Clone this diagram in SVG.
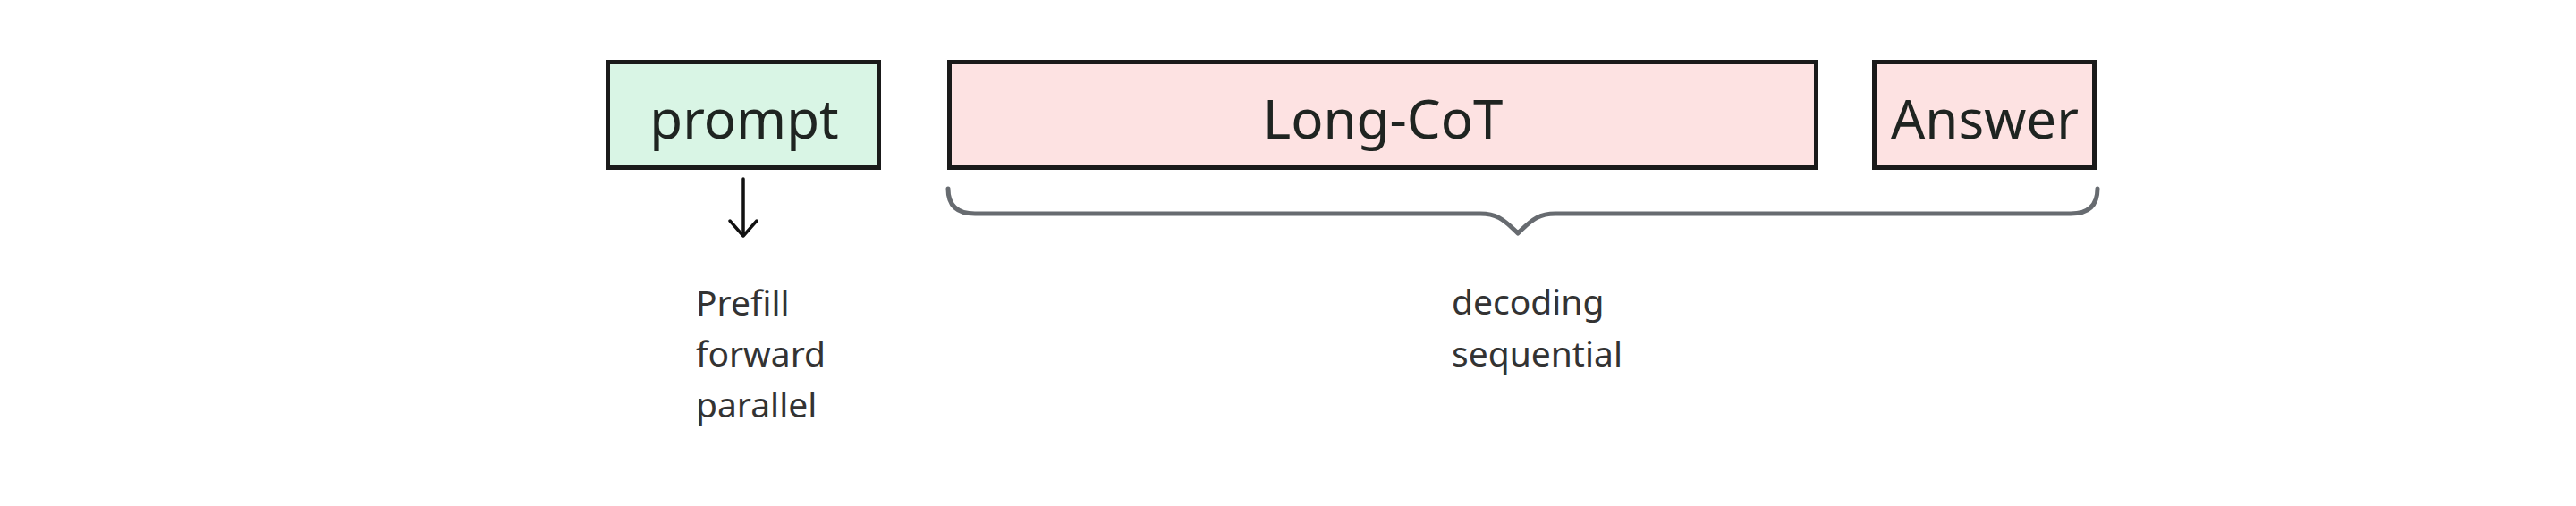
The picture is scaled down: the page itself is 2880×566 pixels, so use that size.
<svg xmlns="http://www.w3.org/2000/svg" width="2880" height="566" viewBox="0 0 2880 566">
<style>
.box{stroke:#1a1a1a;stroke-width:5}
.green{fill:#d9f5e5}
.pink{fill:#fde2e2}
.lbl{font-family:"Noto Sans","Open Sans",sans-serif;font-size:60px;fill:#1f2421;text-anchor:middle}
.note{font-family:"Noto Sans","Open Sans",sans-serif;font-size:39px;fill:#333333}
.brace{fill:none;stroke:#676b70;stroke-width:5;stroke-linecap:round;stroke-linejoin:round}
.arrow{fill:none;stroke:#111;stroke-width:3.5;stroke-linecap:round;stroke-linejoin:round}
</style>
<rect width="2880" height="566" fill="#ffffff"/>
<g id="prompt">
<rect class="box green" x="679.5" y="69.5" width="303" height="118"/>
<text class="lbl" x="832" y="155">prompt</text>
</g>
<g id="longcot">
<rect class="box pink" x="1061.5" y="69.5" width="969" height="118"/>
<text class="lbl" x="1546" y="155">Long-CoT</text>
</g>
<g id="answer">
<rect class="box pink" x="2095.5" y="69.5" width="246" height="118"/>
<text class="lbl" x="2219" y="155">Answer</text>
</g>
<g id="connectors">
<path class="arrow" d="M831,200 L831,263 M816,247 L831,264 L846,247"/>
<path class="brace" d="M1060,211 Q1060,239 1090,239 L1655,239 C1672,239 1680,244 1697,261 C1714,244 1722,239 1739,239 L2315,239 Q2345,239 2345,211"/>
</g>
<g id="prefill-note">
<text class="note" x="778" y="353">Prefill</text>
<text class="note" x="778" y="410">forward</text>
<text class="note" x="778" y="467">parallel</text>
</g>
<g id="decoding-note">
<text class="note" x="1623" y="352">decoding</text>
<text class="note" x="1623" y="410">sequential</text>
</g>
</svg>
